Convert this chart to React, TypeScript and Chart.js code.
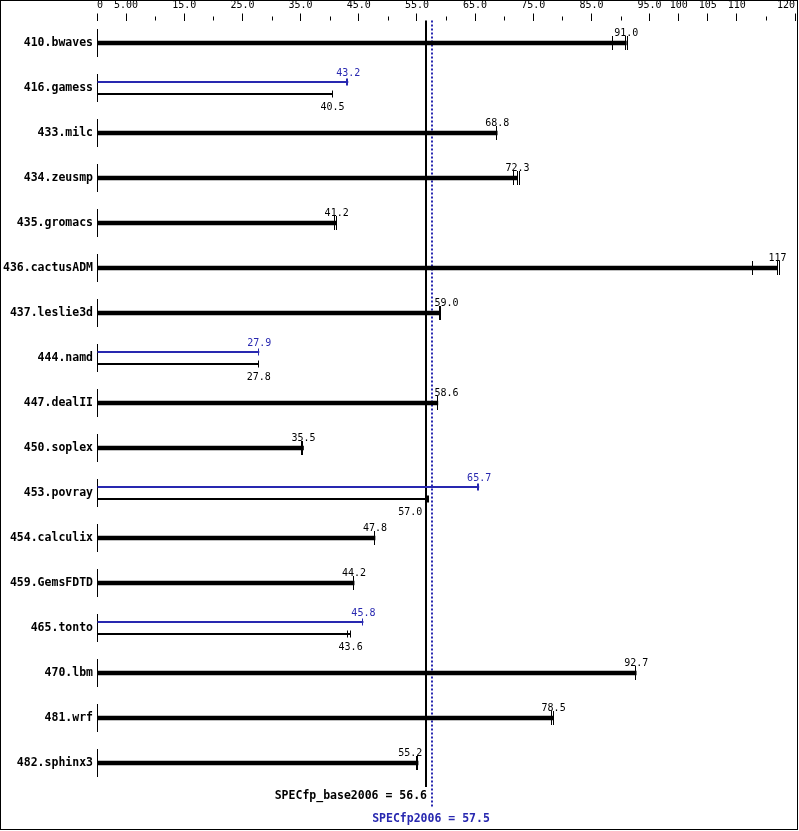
import React, { useEffect, useRef } from 'react';
import { Chart, registerables } from 'chart.js';

Chart.register(...registerables);

// ---------- data ----------
const benchmarks = [
  '410.bwaves', '416.gamess', '433.milc', '434.zeusmp', '435.gromacs', '436.cactusADM',
  '437.leslie3d', '444.namd', '447.dealII', '450.soplex', '453.povray', '454.calculix',
  '459.GemsFDTD', '465.tonto', '470.lbm', '481.wrf', '482.sphinx3',
];

const baseRatios = [91.0, 40.5, 68.8, 72.3, 41.2, 117, 59.0, 27.8, 58.6, 35.5, 57.0, 47.8, 44.2, 43.6, 92.7, 78.5, 55.2];
const peakRatios: (number | null)[] = [null, 43.2, null, null, null, null, null, 27.9, null, null, 65.7, null, null, 45.8, null, null, null];

const baseRuns: number[][] = [
  [88.7, 91.0, 91.3],
  [40.5],
  [68.8],
  [71.7, 72.3, 72.7],
  [40.9, 41.2],
  [112.8, 117, 117.5],
  [59.0, 59.2],
  [27.8],
  [58.6],
  [35.2, 35.5],
  [56.9, 57.0],
  [47.8],
  [44.2],
  [43.2, 43.6],
  [92.7],
  [78.2, 78.5],
  [55.0, 55.2],
];
const peakRuns: number[][] = [
  [], [43.0, 43.2], [], [], [], [], [], [27.9], [], [], [65.5, 65.7], [], [], [45.8], [], [], [],
];

const specBase = 56.6;
const specPeak = 57.5;
const specBaseLabel = 'SPECfp_base2006 = 56.6';
const specPeakLabel = 'SPECfp2006 = 57.5';

const tickValues = [0, 5, 10, 15, 20, 25, 30, 35, 40, 45, 50, 55, 60, 65, 70, 75, 80, 85, 90, 95, 100, 105, 110, 115, 120];
const labeledTicks = [0, 5, 15, 25, 35, 45, 55, 65, 75, 85, 95, 100, 105, 110, 120];
const tickLabels = ['0', '5.00', '15.0', '25.0', '35.0', '45.0', '55.0', '65.0', '75.0', '85.0', '95.0', '100', '105', '110', '120'];

// ---------- style ----------
const BLUE = 'rgb(40,40,176)';
const MONO = '"DejaVu Sans Mono", monospace';

const fmt = (v: number) => (v >= 100 ? v.toFixed(0) : v.toFixed(1));

const overlay = {
  id: 'specOverlay',
  beforeDatasetsDraw(chart: any) {
    const { ctx, chartArea, scales } = chart;
    const x = scales.x;
    const y = scales.y;
    ctx.save();
    ctx.strokeStyle = '#000';
    ctx.lineWidth = 1;
    const x0 = Math.round(x.getPixelForValue(0)) + 0.5;
    benchmarks.forEach((_, i) => {
      const c = y.getPixelForValue(i);
      ctx.beginPath();
      ctx.moveTo(x0, c - 14);
      ctx.lineTo(x0, c + 14);
      ctx.stroke();
    });
    tickValues.forEach((v) => {
      if (labeledTicks.includes(v)) return;
      const px = Math.round(x.getPixelForValue(v)) + 0.5;
      ctx.beginPath();
      ctx.moveTo(px, chartArea.top - 4);
      ctx.lineTo(px, chartArea.top);
      ctx.stroke();
    });
    const bx = Math.round(x.getPixelForValue(specBase));
    ctx.lineWidth = 2;
    ctx.beginPath();
    ctx.moveTo(bx, chartArea.top);
    ctx.lineTo(bx, chartArea.bottom + 1.5);
    ctx.stroke();
    const px = Math.round(x.getPixelForValue(specPeak)) + 1;
    ctx.strokeStyle = BLUE;
    ctx.setLineDash([2, 2]);
    ctx.beginPath();
    ctx.moveTo(px, chartArea.top);
    ctx.lineTo(px, chartArea.bottom + 22);
    ctx.stroke();
    ctx.setLineDash([]);
    ctx.font = `bold 11.5px ${MONO}`;
    ctx.textBaseline = 'alphabetic';
    ctx.fillStyle = '#000';
    ctx.textAlign = 'right';
    ctx.fillText(specBaseLabel, bx + 1, chartArea.bottom + 13.5);
    ctx.fillStyle = BLUE;
    ctx.textAlign = 'center';
    ctx.fillText(specPeakLabel, px - 1, chartArea.bottom + 36);
    ctx.restore();
  },
  afterDatasetsDraw(chart: any) {
    const { ctx, scales } = chart;
    const x = scales.x;
    const y = scales.y;
    const bx = x.getPixelForValue(specBase);
    const pxl = x.getPixelForValue(specPeak);
    const mid = (specBase + specPeak) / 2;
    ctx.save();
    ctx.font = `10px ${MONO}`;
    ctx.textBaseline = 'alphabetic';
    ctx.lineWidth = 1;

    const placeLabel = (text: string, v: number, yy: number, color: string) => {
      const w = ctx.measureText(text).width;
      const cx = x.getPixelForValue(v);
      let left = cx - w / 2;
      const right0 = cx + w / 2;
      if (left < pxl + 2 && right0 > bx - 2) {
        left = v < mid ? bx - 4 - w : pxl + 3;
      }
      ctx.fillStyle = color;
      ctx.textAlign = 'left';
      ctx.fillText(text, left, yy);
    };
    const drawTicks = (runs: number[], cy: number, half: number, color: string) => {
      ctx.strokeStyle = color;
      runs.forEach((r) => {
        const rx = Math.round(x.getPixelForValue(r)) - 0.5;
        ctx.beginPath();
        ctx.moveTo(rx, cy - half);
        ctx.lineTo(rx, cy + half);
        ctx.stroke();
      });
    };

    benchmarks.forEach((_, i) => {
      const c = y.getPixelForValue(i);
      const peak = peakRatios[i];
      if (peak === null) {
        drawTicks(baseRuns[i], c, 7, '#000');
        placeLabel(fmt(baseRatios[i]), baseRatios[i], c - 7, '#000');
      } else {
        drawTicks(peakRuns[i], c - 6, 3.5, BLUE);
        drawTicks(baseRuns[i], c + 6, 3.5, '#000');
        placeLabel(fmt(peak), peak, c - 12, BLUE);
        placeLabel(fmt(baseRatios[i]), baseRatios[i], c + 22, '#000');
      }
    });
    ctx.restore();
  },
  afterDraw(chart: any) {
    const { ctx } = chart;
    ctx.save();
    ctx.strokeStyle = '#000';
    ctx.lineWidth = 1;
    ctx.strokeRect(0.5, 0.5, 797, 829);
    ctx.restore();
  },
};

export default function App() {
  const ref = useRef<HTMLCanvasElement | null>(null);

  useEffect(() => {
    document.body.style.margin = '0';
    const canvas = ref.current;
    if (!canvas) return;

    const thick = baseRatios.map((v, i) => (peakRatios[i] === null ? v : null));
    const thinBase = baseRatios.map((v, i) => (peakRatios[i] === null ? null : v));

    const chart = new Chart(canvas, {
      type: 'bar',
      data: {
        labels: benchmarks,
        datasets: [
          {
            label: 'peak',
            data: peakRatios as any,
            backgroundColor: BLUE,
            borderWidth: 0,
            grouped: true,
            categoryPercentage: 24 / 45,
            barPercentage: 1 / 6,
          } as any,
          {
            label: 'base',
            data: thinBase as any,
            backgroundColor: '#000',
            borderWidth: 0,
            grouped: true,
            categoryPercentage: 24 / 45,
            barPercentage: 1 / 6,
          } as any,
          {
            label: 'base (single)',
            data: thick as any,
            backgroundColor: '#000',
            borderWidth: 0,
            grouped: false,
            barThickness: 4,
          } as any,
        ],
      },
      options: {
        indexAxis: 'y',
        animation: false,
        responsive: false,
        events: [],
        layout: { padding: { left: 0, right: 4, top: 0, bottom: 45.5 } },
        plugins: {
          legend: { display: false },
          tooltip: { enabled: false },
          title: { display: false },
        },
        scales: {
          x: {
            type: 'linear',
            position: 'top',
            min: 0,
            max: 120,
            afterBuildTicks: (s: any) => {
              s.ticks = tickValues.map((v) => ({ value: v }));
            },
            afterFit: (s: any) => {
              s.height = 20.5;
              s.paddingLeft = 0;
              s.paddingRight = 0;
            },
            grid: {
              display: true,
              drawOnChartArea: false,
              drawTicks: true,
              tickLength: 7,
              tickWidth: 1,
              tickColor: (c: any) =>
                c.tick && labeledTicks.includes(c.tick.value) ? '#000' : 'rgba(0,0,0,0)',
            },
            border: { display: false },
            ticks: {
              autoSkip: false,
              maxRotation: 0,
              minRotation: 0,
              align: 'inner',
              padding: 2,
              color: '#000',
              font: { family: MONO, size: 10 },
              callback: (v: any) => {
                const k = labeledTicks.indexOf(Number(v));
                return k >= 0 ? tickLabels[k] : '';
              },
            },
          },
          y: {
            type: 'category',
            position: 'left',
            afterFit: (s: any) => {
              s.width = 97;
              s.paddingTop = 0;
              s.paddingBottom = 0;
            },
            grid: { display: false, drawTicks: false },
            border: { display: false },
            ticks: {
              autoSkip: false,
              padding: 4,
              color: '#000',
              font: { family: MONO, size: 11.5, weight: 'bold' },
            },
          },
        },
      } as any,
      plugins: [overlay],
    });

    return () => chart.destroy();
  }, []);

  return <canvas ref={ref} width={799} height={831} style={{ display: 'block' }} />;
}
